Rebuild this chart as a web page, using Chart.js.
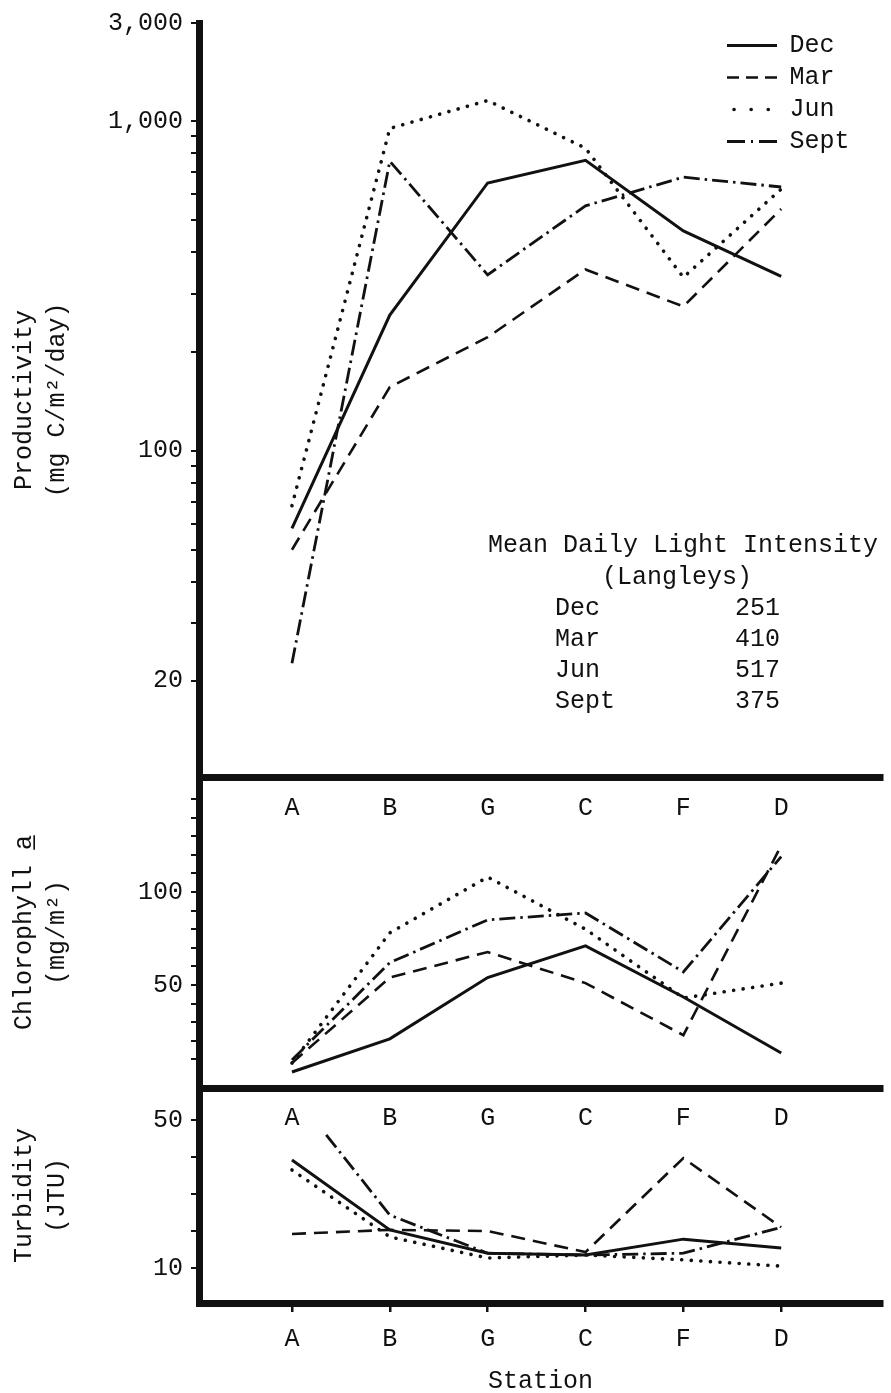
<!DOCTYPE html>
<html lang="en">
<head>
<meta charset="UTF-8">
<title>Productivity, chlorophyll a and turbidity by station</title>
<script src="https://cdn.jsdelivr.net/npm/chart.js"></script>
<style>
  body { margin: 0; background: #fff; }
  #wrap { position: relative; width: 891px; height: 1393px; background: #fff; overflow: hidden; }
  canvas { position: absolute; left: 0; }
</style>
</head>
<body>
<div id="wrap">
  <canvas id="prodChart" width="891" height="830" style="top:0px"></canvas>
  <canvas id="chlChart" width="891" height="400" style="top:740px"></canvas>
  <canvas id="turbChart" width="891" height="353" style="top:1040px"></canvas>
</div>
<script>
// stations along the river, in plotting order
const stations = ['A', 'B', 'G', 'C', 'F', 'D'];
const months = ['Dec', 'Mar', 'Jun', 'Sept'];

// productivity (mg C/m2/day), log axis
const prodDec  = [58, 258, 650, 762, 465, 338];
const prodMar  = [50, 156, 221, 355, 274, 542];
const prodJun  = [68, 952, 1157, 829, 336, 623];
const prodSept = [22.6, 757, 342, 554, 677, 632];

// chlorophyll a (mg/m2)
const chlDec  = [3.2, 21, 54, 71, 43.5, 13.4];
const chlMar  = [8, 54, 67.7, 51, 23, 125];
const chlJun  = [8, 78, 108, 80, 43, 51];
const chlSept = [9.7, 62, 85, 88.7, 57, 119];

// turbidity (JTU); the Sept trace starts part way between A and B
const turbDec  = [39.2, 20.3, 14, 13.5, 17.8, 15.4];
const turbMar  = [19.2, 20.3, 20, 14.3, 39.7, 21];
const turbJun  = [36.5, 18.4, 12.7, 13.5, 12.2, 10.5];
const turbSept = [46, 24.3, 14, 13.5, 14, 21];
const turbSeptAt = [0.35, 1, 2, 3, 4, 5];

// axis ticks
const prodTicks = [20, 30, 40, 50, 60, 70, 80, 90, 100, 200, 300, 400, 500, 600, 700, 800, 900, 1000, 1990];
const prodLabelAt = [20, 100, 1000, 1990];
const prodLabelText = ['20', '100', '1,000', '3,000'];
const chlTicks = [10, 20, 30, 40, 50, 60, 70, 80, 90, 100, 110, 120, 130, 140, 150];
const chlLabelAt = [50, 100];
const turbTicks = [10, 20, 30, 40, 50];
const turbLabelAt = [10, 50];

// light intensity note
const lightMonths = ['Dec', 'Mar', 'Jun', 'Sept'];
const lightValues = [251, 410, 517, 375];

const ink = '#111';
const FONT = "'Liberation Mono', 'DejaVu Sans Mono', monospace";
const stationIdx = stations.map((_, i) => i);

// line looks per month: plot dash and a shorter legend dash
const lineStyles = [
  { borderWidth: 3, borderDash: [] },
  { borderWidth: 2.6, borderDash: [14, 8] },
  { borderWidth: 3.6, borderDash: [0.1, 9.5], borderCapStyle: 'round' },
  { borderWidth: 2.8, borderDash: [16, 5, 2.5, 5] }
];
const legendDash = [[], [12, 7], [0.1, 17], [18, 6, 2, 6]];
const legendDashOffset = [0, 0, -7, 0];

function makeDatasets(series, xs) {
  return series.map((vals, i) => Object.assign({
    label: months[i],
    data: vals.map((v, j) => ({ x: (xs && xs[i] ? xs[i] : stationIdx)[j], y: v })),
    borderColor: ink,
    backgroundColor: ink,
    pointRadius: 0,
    fill: false,
    tension: 0
  }, lineStyles[i]));
}

function xScale(o) {
  return {
    type: 'linear',
    min: -0.95,
    max: 6.03,
    afterBuildTicks: s => { s.ticks = stationIdx.map(v => ({ value: v })); },
    afterFit: s => { s.height = o.height; },
    ticks: {
      autoSkip: false, maxRotation: 0, padding: o.pad, color: ink,
      font: { family: FONT, size: 25 },
      callback: v => stations[v] ?? ''
    },
    grid: { display: o.marks, drawOnChartArea: false, drawTicks: o.marks, tickLength: 9, lineWidth: 2.5, color: ink },
    border: { display: true, width: 7, color: ink },
    title: o.title
      ? { display: true, text: o.title, color: ink, font: { family: FONT, size: 25, lineHeight: 0.9 }, padding: { top: 0, bottom: 0 } }
      : { display: false }
  };
}

function yScale(o) {
  return {
    type: o.type,
    min: o.min,
    max: o.max,
    afterBuildTicks: s => { s.ticks = o.ticks.map(v => ({ value: v })); },
    afterFit: s => { s.width = 199; },
    ticks: {
      autoSkip: false, padding: 8, color: ink,
      font: { family: FONT, size: 25 },
      callback: v => {
        const k = o.labelAt.indexOf(v);
        return k < 0 ? '' : (o.labelText ? o.labelText[k] : String(v));
      }
    },
    grid: { drawOnChartArea: false, drawTicks: true, tickLength: 8, lineWidth: 2, color: ink },
    border: { display: true, width: 7, color: ink },
    title: {
      display: true, text: o.title, color: ink,
      font: { family: FONT, size: 25, lineHeight: 1.32 },
      padding: { top: 8, bottom: 0 }
    }
  };
}

// put the legend in the upper right corner of the top panel
const legendSpot = {
  id: 'legendSpot',
  afterLayout(chart) {
    const lg = chart.legend;
    if (!lg) return;
    lg.left = 720;
    lg.top = 26;
    lg.right = lg.left + lg.width;
    lg.bottom = lg.top + lg.height;
  }
};

const lightNote = {
  id: 'lightNote',
  afterDraw(chart) {
    const c = chart.ctx;
    c.save();
    c.fillStyle = ink;
    c.font = '25px ' + FONT;
    c.textBaseline = 'middle';
    c.textAlign = 'center';
    c.fillText('Mean Daily Light Intensity', 683, 545);
    c.fillText('(Langleys)', 677, 577);
    lightMonths.forEach((m, i) => {
      const y = 608 + i * 31;
      c.textAlign = 'left';
      c.fillText(m, 555, y);
      c.textAlign = 'right';
      c.fillText(String(lightValues[i]), 780, y);
    });
    c.restore();
  }
};

function legendItems(chart) {
  return chart.data.datasets.map((ds, i) => ({
    text: ds.label,
    datasetIndex: i,
    hidden: false,
    pointStyle: 'line',
    rotation: 0,
    lineWidth: ds.borderWidth,
    strokeStyle: ink,
    fillStyle: ink,
    fontColor: ink,
    lineCap: ds.borderCapStyle || 'butt',
    lineDash: legendDash[i],
    lineDashOffset: legendDashOffset[i]
  }));
}

function baseOptions(pad, xs, ys, showLegend) {
  return {
    responsive: false,
    animation: false,
    devicePixelRatio: 1,
    layout: { padding: { top: pad, right: 9, bottom: 0, left: 0 } },
    scales: { x: xs, y: ys },
    plugins: {
      tooltip: { enabled: false },
      legend: showLegend ? {
        display: true,
        position: 'chartArea',
        align: 'start',
        labels: {
          usePointStyle: true, pointStyle: 'line', pointStyleWidth: 50,
          padding: 7, color: ink, font: { family: FONT, size: 25 },
          generateLabels: legendItems
        }
      } : { display: false }
    }
  };
}

new Chart(document.getElementById('prodChart'), {
  type: 'line',
  data: { datasets: makeDatasets([prodDec, prodMar, prodJun, prodSept]) },
  options: baseOptions(21,
    xScale({ height: 53, pad: 16, marks: false }),
    yScale({ type: 'logarithmic', min: 10.2, max: 1990, ticks: prodTicks,
             labelAt: prodLabelAt, labelText: prodLabelText,
             title: ['Productivity', '(mg C/m\u00b2/day)'] }),
    true),
  plugins: [legendSpot, lightNote]
});

new Chart(document.getElementById('chlChart'), {
  type: 'line',
  data: { datasets: makeDatasets([chlDec, chlMar, chlJun, chlSept]) },
  options: baseOptions(37,
    xScale({ height: 52, pad: 15, marks: false }),
    yScale({ type: 'linear', min: -5.4, max: 161.8, ticks: chlTicks,
             labelAt: chlLabelAt, title: ['Chlorophyll a\u0332', '(mg/m\u00b2)'] }),
    false)
});

new Chart(document.getElementById('turbChart'), {
  type: 'line',
  data: { datasets: makeDatasets([turbDec, turbMar, turbJun, turbSept], [null, null, null, turbSeptAt]) },
  options: baseOptions(48,
    xScale({ height: 90, pad: 12, marks: true, title: 'Station' }),
    yScale({ type: 'linear', min: 0.54, max: 58.65, ticks: turbTicks,
             labelAt: turbLabelAt, title: ['Turbidity', '(JTU)'] }),
    false)
});
</script>
</body>
</html>
